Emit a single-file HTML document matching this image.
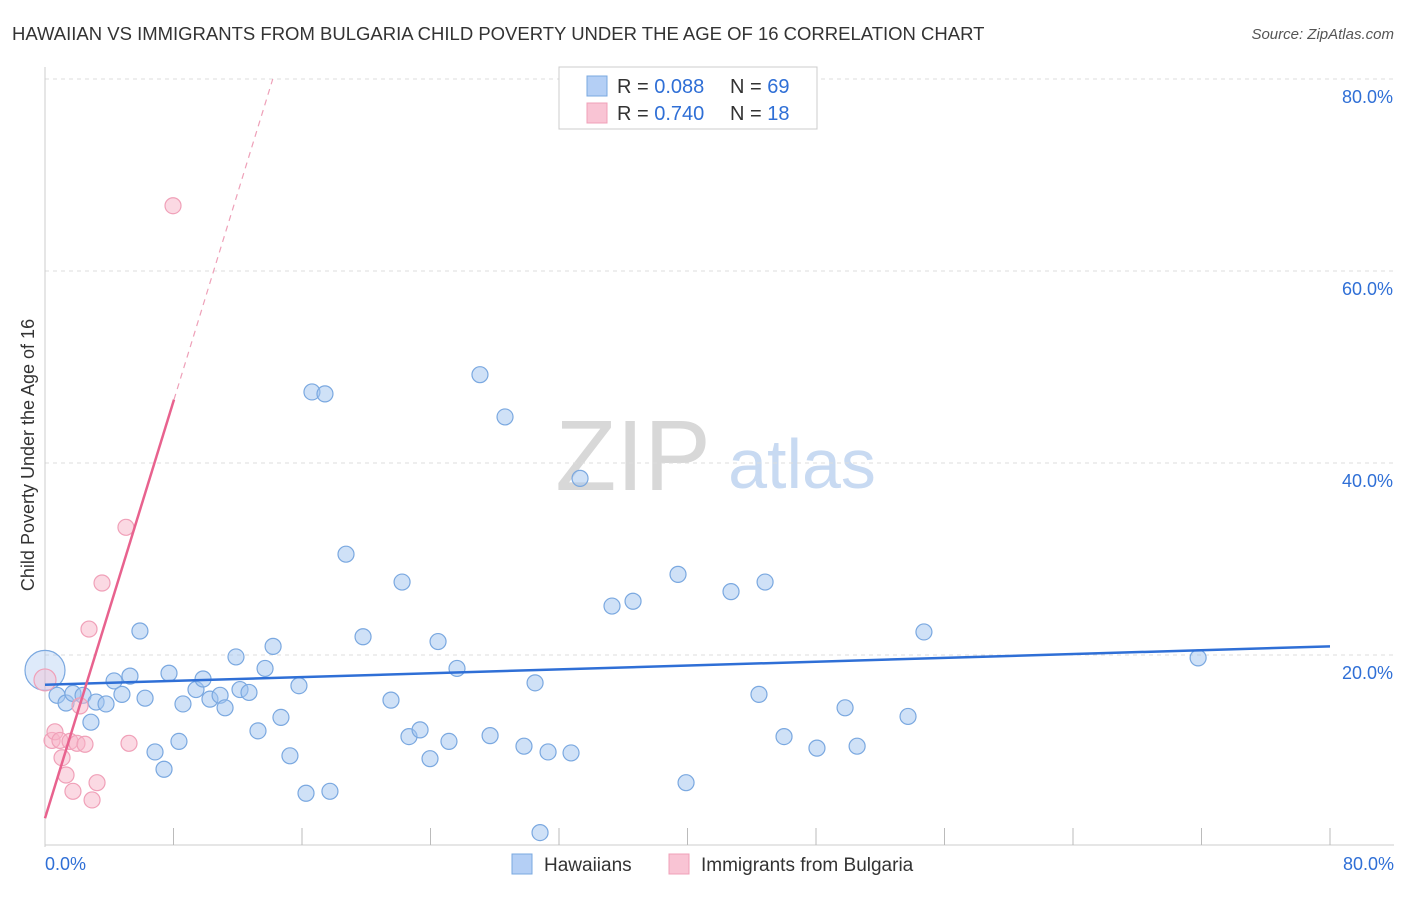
<!DOCTYPE html>
<html><head><meta charset="utf-8"><style>
body{margin:0;background:#fff;font-family:"Liberation Sans",sans-serif;}
svg text{font-family:"Liberation Sans",sans-serif;}
</style></head><body>
<svg id="c" width="1406" height="892">
<text x="12" y="40" font-size="18.5" fill="#333">HAWAIIAN VS IMMIGRANTS FROM BULGARIA CHILD POVERTY UNDER THE AGE OF 16 CORRELATION CHART</text>
<text x="1394" y="39" font-size="15" fill="#555" font-style="italic" text-anchor="end">Source: ZipAtlas.com</text>
<text x="633" y="490" font-size="100" fill="#d8d8d8" font-family="Liberation Serif" text-anchor="middle">ZIP</text>
<text x="802" y="488" font-size="70" fill="#c8daf2" text-anchor="middle">atlas</text>
<text transform="translate(34,455) rotate(-90)" font-size="18" fill="#333" text-anchor="middle">Child Poverty Under the Age of 16</text>
<g id="grid"></g><g id="pts"></g><g id="lines"></g>
<g>
<rect x="559" y="67" width="258" height="62" fill="#fff" stroke="#ccc"/>
<rect x="587" y="76" width="20" height="20" fill="#b4cff5" stroke="#7aa8e0"/>
<rect x="587" y="103" width="20" height="20" fill="#f9c4d4" stroke="#f0a0b8"/>
<text x="617" y="93" font-size="20" fill="#333">R = <tspan fill="#2f6fd6">0.088</tspan></text>
<text x="730" y="93" font-size="20" fill="#333">N = <tspan fill="#2f6fd6">69</tspan></text>
<text x="617" y="120" font-size="20" fill="#333">R = <tspan fill="#2f6fd6">0.740</tspan></text>
<text x="730" y="120" font-size="20" fill="#333">N =  <tspan fill="#2f6fd6">18</tspan></text>
</g>
<g>
<rect x="512" y="854" width="20" height="20" fill="#b4cff5" stroke="#7aa8e0"/>
<text x="544" y="871" font-size="19" fill="#333">Hawaiians</text>
<rect x="669" y="854" width="20" height="20" fill="#f9c4d4" stroke="#f0a0b8"/>
<text x="701" y="871" font-size="19" fill="#333">Immigrants from Bulgaria</text>
</g>
</svg>
<script>
const blueX=[0,0.75,1.31,1.74,2.37,3.18,3.80,2.86,4.30,4.79,5.29,5.91,6.23,6.85,7.41,7.72,8.34,8.59,9.40,9.84,10.27,10.90,11.21,11.89,12.14,12.70,13.26,13.70,14.20,14.69,15.25,15.81,16.25,16.62,17.43,17.74,18.74,19.80,21.54,22.23,22.66,23.35,23.97,24.47,25.15,25.65,27.08,27.71,28.64,29.82,30.51,30.82,31.32,32.75,33.31,35.30,36.61,39.41,39.91,42.71,44.45,44.83,46.01,48.06,49.81,50.56,53.73,54.72,71.79];
const blueY=[18.4,15.8,15.0,16.0,15.8,15.1,14.9,13.0,17.3,15.9,17.8,22.5,15.5,9.9,8.1,18.1,11.0,14.9,16.4,17.5,15.4,15.8,14.5,19.8,16.4,16.1,12.1,18.6,20.9,13.5,9.5,16.8,5.6,47.4,47.2,5.8,30.5,21.9,15.3,27.6,11.5,12.2,9.2,21.4,11.0,18.6,49.2,11.6,44.8,10.5,17.1,1.5,9.9,9.8,38.4,25.1,25.6,28.4,6.7,26.6,15.9,27.6,11.5,10.3,14.5,10.5,13.6,22.4,19.7];
const pinkX=[0,0.44,0.62,0.93,1.06,1.31,1.56,1.74,1.99,2.18,2.49,2.74,2.93,3.24,3.55,5.04,5.23,7.97];
const pinkY=[17.4,11.1,12.0,11.1,9.3,7.5,11.0,5.8,10.8,14.7,10.7,22.7,4.9,6.7,27.5,33.3,10.8,66.8];
const yTicks=[20,40,60,80];
const xTicks=[0,8,16,24,32,40,48,56,64,72,80];
const blueTrend=[16.9,20.9];
const pinkTrend=[3.0,5.43];
const X=v=>45+v/80*1285, Y=v=>847-v/80*768;
const NS="http://www.w3.org/2000/svg";
function mk(p,t,a){const e=document.createElementNS(NS,t);for(const k in a)e.setAttribute(k,a[k]);p.appendChild(e);return e;}
const g=document.getElementById('grid'),P=document.getElementById('pts'),L=document.getElementById('lines');
yTicks.forEach(t=>{const l=mk(g,'line',{x1:45,x2:1394,y1:Y(t),y2:Y(t),stroke:'#ddd','stroke-dasharray':'4,4'});


const tx=mk(g,'text',{x:1393,y:Y(t)+24,'font-size':18,fill:'#2f6fd6','text-anchor':'end'});tx.textContent=t.toFixed(1)+'%';

});
mk(g,'line',{x1:45,x2:45,y1:67,y2:847,stroke:'#ccc'});
mk(g,'line',{x1:45,x2:1394,y1:845,y2:845,stroke:'#ccc'});
xTicks.forEach(t=>{if(t>0){const l=mk(g,'line',{x1:X(t),x2:X(t),y1:828,y2:845,stroke:'#bbb'});

}});
[[0,45,'start'],[80,1394,'end']].forEach(a=>{const tx=mk(g,'text',{x:a[1],y:870,'font-size':18,fill:'#2f6fd6','text-anchor':a[2]});tx.textContent=a[0].toFixed(1)+'%';

});
blueX.forEach((x,i)=>{const c=mk(P,'circle',{cx:X(x),cy:Y(blueY[i]),r:i==0?20:8,fill:i==0?'rgba(160,196,240,0.35)':'rgba(160,196,240,0.5)',stroke:'#7aa8e0','stroke-width':1.2});

});
pinkX.forEach((x,i)=>{const c=mk(P,'circle',{cx:X(x),cy:Y(pinkY[i]),r:i==0?11:8,fill:i==0?'rgba(248,180,200,0.35)':'rgba(248,180,200,0.5)',stroke:'#f0a0b8','stroke-width':1.2});

});
let l=mk(L,'line',{x1:X(0),y1:Y(blueTrend[0]),x2:X(80),y2:Y(blueTrend[1]),stroke:'#2f6fd6','stroke-width':2.5});


const pxEnd=8.03, pxTop=(80-pinkTrend[0])/pinkTrend[1];
l=mk(L,'line',{x1:X(0),y1:Y(pinkTrend[0]),x2:X(pxEnd),y2:Y(pinkTrend[0]+pinkTrend[1]*pxEnd),stroke:'#e8628e','stroke-width':2.5});


l=mk(L,'line',{x1:X(pxEnd),y1:Y(pinkTrend[0]+pinkTrend[1]*pxEnd),x2:X(pxTop),y2:Y(80),stroke:'#eea0b8','stroke-width':1.2,'stroke-dasharray':'6,5'});


</script>
</body></html>
